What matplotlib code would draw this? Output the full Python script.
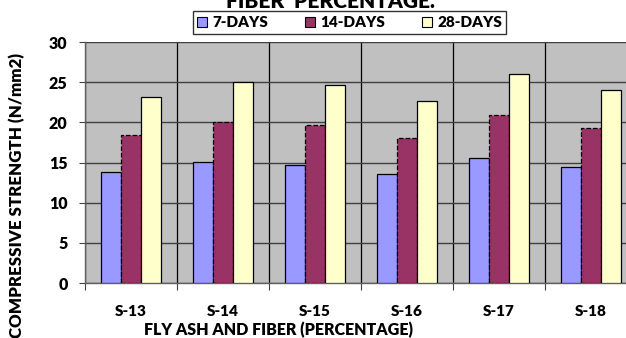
import matplotlib
matplotlib.use("Agg")
import matplotlib.pyplot as plt
import numpy as np
from matplotlib.patches import Patch

categories = ["S-13", "S-14", "S-15", "S-16", "S-17", "S-18"]
days7 = [13.8, 15.1, 14.7, 13.6, 15.6, 14.4]
days14 = [18.4, 20.1, 19.7, 18.0, 20.9, 19.3]
days28 = [23.1, 25.0, 24.6, 22.6, 26.0, 24.0]
series_names = ["7-DAYS", "14-DAYS", "28-DAYS"]
yticks = [0, 5, 10, 15, 20, 25, 30]

plt.rcParams['font.family'] = ['Lato', 'DejaVu Sans']
WEIGHT = 'heavy'

W, H = 626, 338
fig = plt.figure(figsize=(W / 100, H / 100), dpi=100)
fig.patch.set_facecolor("white")

left, right, top, bottom = 85, 637, 42, 283
ax = fig.add_axes([left / W, 1 - bottom / H, (right - left) / W, (bottom - top) / H])
ax.set_facecolor("#C0C0C0")

x = np.arange(len(categories))
bw = 0.22
colors = ["#9999FF", "#993366", "#FFFFCC"]
styles = ["-", "--", "-"]
for i, (vals, c, ls) in enumerate(zip([days7, days14, days28], colors, styles)):
    ax.bar(x + (i - 1) * bw, vals, width=bw, color=c, edgecolor="black",
           linewidth=0.9, linestyle=ls, zorder=3)

ax.set_xlim(-0.5, len(categories) - 0.5)
ax.set_ylim(0, 30)
ax.set_yticks(yticks)
ax.set_yticklabels([str(v) for v in yticks], fontsize=11.5, fontweight=WEIGHT)

ax.set_xticks(np.arange(len(categories) + 1) - 0.5)
ax.set_xticklabels([])
ax.set_xticks(x, minor=True)
ax.set_xticklabels(categories, minor=True, fontsize=11, fontweight=WEIGHT)
ax.tick_params(axis='x', which='minor', length=0, pad=16)
ax.tick_params(axis='x', which='major', length=5, width=0.8, color="#404040", direction='out')
ax.tick_params(axis='y', length=4.5, width=0.8, color="#404040", direction='out', pad=8)

ax.set_axisbelow(True)
ax.yaxis.grid(True, color="#404040", linewidth=1.0)
ax.xaxis.grid(True, which='major', color="black", linewidth=0.9)
for s in ["top", "right"]:
    ax.spines[s].set_visible(False)
for s in ["left", "bottom"]:
    ax.spines[s].set_color("#606060")
    ax.spines[s].set_linewidth(1.0)

fig.text(278 / W, 1 - 330 / H, "FLY ASH AND FIBER (PERCENTAGE)", ha='center', va='center',
         fontsize=11.5, fontweight=WEIGHT)
fig.text(17 / W, 1 - 196 / H, "COMPRESSIVE STRENGTH (N/mm2)", ha='center', va='center',
         rotation=90, fontsize=12.2, fontweight=WEIGHT)
fig.text(330 / W, 1 - 1 / H, "FIBER  PERCENTAGE.", ha='center', va='center',
         fontsize=15, fontweight=WEIGHT)

handles = [Patch(facecolor=c, edgecolor="black", linewidth=0.8) for c in colors]
leg = fig.legend(handles, series_names, loc='center', bbox_to_anchor=(349.5 / W, 1 - 22.5 / H),
                 ncol=3, frameon=True, fancybox=False,
                 handlelength=0.65, handleheight=0.65, handletextpad=0.35, columnspacing=2.4,
                 borderpad=0.3, prop={'weight': WEIGHT, 'size': 11})
leg.get_frame().set_edgecolor("black")
leg.get_frame().set_linewidth(1.0)

fig.savefig("out.png", dpi=100)
